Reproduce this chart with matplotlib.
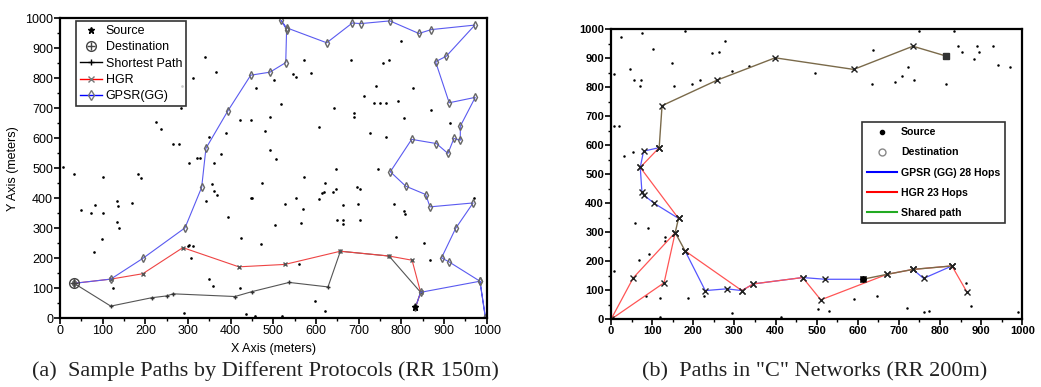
import matplotlib
matplotlib.use("Agg")
import matplotlib.pyplot as plt
from matplotlib.lines import Line2D

plt.rcParams['font.family'] = ['Liberation Sans', 'DejaVu Sans']

# ---------------- (a) sample paths, RR 150m ----------------
nodes_a_x = [340, 365, 311, 285, 283, 226, 236, 264, 279, 303, 320, 328, 361, 377, 422, 447, 388,
             33, 100, 182, 191, 49, 72, 82, 101, 134, 137, 168, 134, 139, 98, 80, 356, 343, 361, 367,
             394, 425, 447, 299, 312, 308, 125, 349, 359, 422, 290, 436, 457, 8, 460, 350,
             798, 571, 683, 757, 771, 545, 554, 589, 501, 740, 827, 713, 735, 749, 763, 791, 517,
             642, 688, 688, 870, 493, 806, 607, 480, 726, 765, 915, 493, 507, 646, 744, 571, 473,
             621, 646, 640, 618, 697, 703, 554, 607, 970,
             449, 527, 570, 615, 664, 699, 782, 806, 808, 648, 664, 664, 703, 564, 504, 788, 852,
             470, 868, 560, 597, 621, 521, 303]
nodes_a_y = [869, 819, 801, 774, 699, 654, 629, 579, 579, 516, 534, 534, 516, 547, 662, 662, 616,
             480, 471, 480, 466, 360, 352, 377, 352, 390, 374, 384, 321, 301, 263, 219, 447, 390, 423, 410,
             338, 268, 401, 240, 240, 201, 102, 132, 107, 102, 18, 13, 7, 504, 766, 604,
             924, 860, 860, 851, 862, 813, 804, 818, 793, 773, 766, 741, 718, 718, 718, 724, 715,
             699, 684, 671, 693, 671, 667, 636, 623, 616, 604, 649, 560, 529, 497, 497, 471, 452,
             452, 432, 421, 421, 438, 432, 402, 397, 399,
             402, 379, 365, 418, 377, 382, 382, 358, 346, 327, 327, 313, 327, 316, 310, 269, 252,
             246, 193, 182, 58, 24, 7, 243]

gpsr_a_x = [33, 119, 194, 293, 332, 342, 393, 447, 492, 529, 531, 518, 531, 625, 685, 705, 773,
            841, 870, 972, 905, 880, 912, 973, 938, 938, 923, 909, 882, 824, 774, 810, 857, 867,
            968, 927, 894, 911, 984, 997, 984, 845, 833]
gpsr_a_y = [116, 130, 199, 301, 436, 566, 690, 810, 820, 852, 962, 993, 968, 918, 984, 982, 991,
            949, 962, 977, 873, 855, 718, 736, 640, 593, 599, 549, 582, 596, 488, 440, 412, 371,
            384, 299, 201, 188, 123, 0, 123, 86, 36]
hgr_a_x = [33, 119, 194, 288, 419, 527, 657, 771, 825, 845, 833]
hgr_a_y = [116, 130, 148, 235, 171, 179, 223, 207, 193, 86, 36]
short_a_x = [33, 119, 215, 250, 265, 410, 449, 537, 628, 657, 771, 845, 833]
short_a_y = [116, 40, 68, 74, 81, 72, 88, 119, 104, 223, 207, 86, 36]
src_a = (833, 36)
dst_a = (33, 116)

# ---------------- (b) "C" network, RR 200m ----------------
nodes_b_x = [24, 75, 180, 276, 101, 245, 263, 45, 148, 6, 56, 73, 71, 152, 196, 217, 294, 336,
             7, 19, 32, 53, 748, 833, 638, 721, 707, 691, 736, 634, 814, 495, 843, 853, 891, 894,
             929, 883, 942, 969, 58, 91, 130, 131, 93, 69, 6, 85, 119, 188, 225, 119, 295, 414,
             504, 529, 591, 646, 719, 762, 772, 863, 876, 989]
nodes_b_y = [975, 986, 995, 961, 934, 917, 923, 863, 883, 846, 825, 825, 805, 805, 810, 825, 857, 875,
             668, 668, 564, 576, 995, 995, 929, 871, 839, 819, 825, 811, 811, 850, 942, 923, 942, 923,
             942, 897, 877, 871, 331, 316, 285, 271, 225, 204, 168, 80, 75, 75, 80, 9, 23, 9,
             36, 30, 69, 81, 38, 24, 30, 126, 47, 24]

shared_b = [
    ([815, 734, 590, 399, 258, 124, 117], [908, 942, 862, 902, 825, 737, 592]),
    ([164, 156, 180], [348, 299, 236]),
    ([612, 671, 734, 829], [138, 155, 172, 184]),
]
gpsr_b = [
    ([117, 79, 71, 75, 79, 105, 164], [592, 580, 524, 440, 429, 400, 348]),
    ([180, 229, 281, 318, 346, 466, 521, 612], [236, 99, 105, 99, 122, 144, 138, 138]),
    ([734, 760, 829], [172, 141, 184]),
]
hgr_b = [
    ([117, 71, 164], [592, 524, 348]),
    ([156, 54, 0, 129, 156], [299, 143, 0, 126, 299]),
    ([180, 318, 346, 466, 510, 671, 734, 829, 865], [236, 99, 122, 144, 67, 155, 172, 184, 95]),
]
src_b = (612, 138)
dst_b = (815, 908)

fig = plt.figure(figsize=(10.41, 3.87), dpi=100)

# ---------- panel (a) ----------
ax = fig.add_axes([0.0576, 0.178, 0.410, 0.775])
ax.plot(nodes_a_x, nodes_a_y, ls='none', marker='.', ms=1.8, color='black')
ax.plot(short_a_x, short_a_y, color='#555555', lw=0.8, marker='+', ms=3.5, mec='#333333')
ax.plot(hgr_a_x, hgr_a_y, color='#ee4444', lw=0.8, marker='x', ms=3.5, mec='#555555')
ax.plot(gpsr_a_x, gpsr_a_y, color='#5a5af0', lw=0.8, marker='d', ms=4.2, mfc='none', mec='#666666')
ax.plot(*dst_a, marker='o', ms=7, mfc='none', mec='#444444')
ax.plot(*dst_a, marker='+', ms=6, mec='#444444')
ax.plot(*src_a, marker='*', ms=5, color='black')
ax.set_xlim(0, 1000)
ax.set_ylim(0, 1000)
ax.set_xticks(range(0, 1001, 100))
ax.set_yticks(range(0, 1001, 100))
ax.set_xticks(range(50, 1000, 100), minor=True)
ax.set_yticks(range(50, 1000, 100), minor=True)
ax.tick_params(labelsize=9, length=4, width=1.2, pad=1)
ax.tick_params(which='minor', length=2.5, width=1)
for s in ax.spines.values():
    s.set_linewidth(1.6)
ax.set_xlabel('X Axis (meters)', fontsize=9, labelpad=4)
ax.set_ylabel('Y Axis (meters)', fontsize=9, labelpad=4)

dest_h = (Line2D([], [], ls='none', marker='o', ms=7, mfc='none', mec='#444444'),
          Line2D([], [], ls='none', marker='+', ms=6, mec='#444444'))
handles_a = [Line2D([], [], ls='none', marker='*', ms=5, color='black'),
             dest_h,
             Line2D([], [], color='black', lw=1, marker='+', ms=5),
             Line2D([], [], color='red', lw=1, marker='x', ms=4, mec='#777777'),
             Line2D([], [], color='blue', lw=1, marker='d', ms=5, mfc='none', mec='#777777')]
labels_a = ['Source', 'Destination', 'Shortest Path', 'HGR', 'GPSR(GG)']
leg = ax.legend(handles_a, labels_a, loc='upper left', bbox_to_anchor=(0.037, 0.99),
                fontsize=9, frameon=True, fancybox=False, edgecolor='black',
                handlelength=1.8, handletextpad=0.3, labelspacing=0.35, borderpad=0.3,
                borderaxespad=0)
leg.get_frame().set_linewidth(1.2)

# ---------- panel (b) ----------
bx = fig.add_axes([0.587, 0.175, 0.395, 0.749])
bx.plot(nodes_b_x, nodes_b_y, ls='none', marker='.', ms=1.6, color='black')
for xs, ys in gpsr_b:
    bx.plot(xs, ys, color='#5555ff', lw=0.9, marker='x', ms=4, mec='#222222')
for xs, ys in hgr_b:
    bx.plot(xs, ys, color='#ff5555', lw=0.9, marker='x', ms=4, mec='#222222')
for xs, ys in shared_b:
    bx.plot(xs, ys, color='#7a6a4a', lw=1.0, marker='x', ms=4, mec='#222222')
bx.plot(*src_b, marker='o', ms=4, color='black')
bx.plot(*dst_b, marker='s', ms=5, color='#333333')
bx.set_xlim(0, 1000)
bx.set_ylim(0, 1000)
bx.set_xticks(range(0, 1001, 100))
bx.set_yticks(range(0, 1001, 100))
bx.set_xticks(range(50, 1000, 100), minor=True)
bx.set_yticks(range(50, 1000, 100), minor=True)
bx.tick_params(labelsize=8, length=4, width=1.2, pad=1)
bx.tick_params(which='minor', length=2.5, width=1)
for lab in bx.get_xticklabels() + bx.get_yticklabels():
    lab.set_fontweight('bold')
for s in bx.spines.values():
    s.set_linewidth(1.6)

handles_b = [Line2D([], [], ls='none', marker='o', ms=3, color='black'),
             Line2D([], [], ls='none', marker='o', ms=5, mfc='none', mec='#888888'),
             Line2D([], [], color='blue', lw=1.5),
             Line2D([], [], color='red', lw=1.5),
             Line2D([], [], color='#22aa22', lw=1.5)]
labels_b = ['Source', 'Destination', 'GPSR (GG) 28 Hops', 'HGR 23 Hops', 'Shared path']
leg2 = bx.legend(handles_b, labels_b, loc='upper left', bbox_to_anchor=(0.61, 0.68),
                 prop={'size': 7.6, 'weight': 'bold'}, frameon=True, fancybox=False,
                 edgecolor='black', handlelength=2.8, handletextpad=0.4, labelspacing=0.95,
                 borderpad=0.5, borderaxespad=0)
leg2.get_frame().set_linewidth(1.2)

# ---------- captions ----------
fig.text(0.255, 0.04, '(a)  Sample Paths by Different Protocols (RR 150m)',
         ha='center', va='center', fontsize=16, family='Liberation Serif', color='#222222')
fig.text(0.783, 0.04, '(b)  Paths in "C" Networks (RR 200m)',
         ha='center', va='center', fontsize=16, family='Liberation Serif', color='#222222')

fig.savefig('out.png', dpi=100)
